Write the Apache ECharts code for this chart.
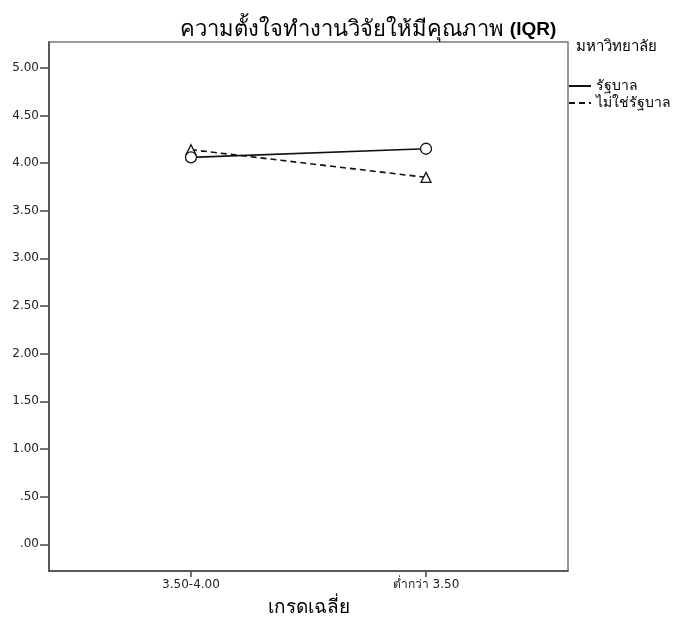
<!DOCTYPE html>
<html><head><meta charset="utf-8">
<script src="https://cdn.jsdelivr.net/npm/echarts@6/dist/echarts.min.js"></script>
<style>html,body{margin:0;padding:0;background:#fff}#c{width:679px;height:628px}</style>
</head><body><div id="c"></div>
<script>
var categories = ['3.50-4.00', 'ต่ำกว่า 3.50'];
var seriesNames = ['รัฐบาล', 'ไม่ใช่รัฐบาล'];
var govValues = [4.06, 4.15];
var nonGovValues = [4.14, 3.85];
var yTicks = [0, 0.5, 1, 1.5, 2, 2.5, 3, 3.5, 4, 4.5, 5];
var yTickLabels = ['.00', '.50', '1.00', '1.50', '2.00', '2.50', '3.00', '3.50', '4.00', '4.50', '5.00'];
var titleMain = 'ความตั้งใจทำงานวิจัยให้มีคุณภาพ';
var titleTag = '(IQR)';
var xName = 'เกรดเฉลี่ย';
var legendTitle = 'มหาวิทยาลัย';

var font = '"DejaVu Sans", "Noto Sans", sans-serif';
var afont = 'Arial, "Liberation Sans", "Noto Sans", sans-serif';
var chart = echarts.init(document.getElementById('c'));
function pts(vals){ return vals.map(function(v,i){ return [i, v]; }); }
var catIdx = categories.map(function(c,i){ return i; });
chart.setOption({
  animation: false,
  backgroundColor: '#fff',
  title: { text: '{a|' + titleMain + ' }{b|' + titleTag + '}', left: 363, textAlign: 'center', top: 14,
    textStyle: { fontWeight: 'normal', rich: {
      a: { fontFamily: afont, fontSize: 22, fontWeight: 'normal', color: '#000' },
      b: { fontFamily: afont, fontSize: 19, fontWeight: 'bold', color: '#000' } } } },
  graphic: [{ type: 'text', left: 576, top: 39,
    style: { text: legendTitle, font: '15px ' + afont, fill: '#000' } }],
  legend: { orient: 'vertical', left: 568, top: 79, padding: 0, itemWidth: 22, itemHeight: 10, itemGap: 3,
    textStyle: { fontFamily: afont, fontSize: 14, color: '#000' },
    itemStyle: { opacity: 0 },
    data: seriesNames },
  grid: { left: 49, top: 42, right: 111, bottom: 57, show: true, borderColor: '#777', borderWidth: 1.5, containLabel: false },
  xAxis: { type: 'value', min: -0.604, max: 1.604,
    name: xName, nameLocation: 'middle', nameGap: 27,
    nameTextStyle: { fontFamily: afont, fontSize: 19, color: '#000' },
    axisLine: { show: true, onZero: false, lineStyle: { color: '#444', width: 1.5 } },
    axisTick: { show: true, customValues: catIdx, length: 6, lineStyle: { color: '#444', width: 1.5 } },
    axisLabel: { customValues: catIdx, formatter: function(v){ return categories[Math.round(v)]; },
      fontFamily: font, fontSize: 12, color: '#222', margin: 8 },
    splitLine: { show: false } },
  yAxis: { type: 'value', min: -0.28, max: 5.27,
    axisLine: { show: true, onZero: false, lineStyle: { color: '#444', width: 1.5 } },
    axisTick: { show: true, customValues: yTicks, length: 9, lineStyle: { color: '#444', width: 1.5 } },
    axisLabel: { customValues: yTicks, formatter: function(v){ var i = yTicks.indexOf(Math.round(v*2)/2); return i >= 0 ? yTickLabels[i] : ''; },
      fontFamily: font, fontSize: 12, color: '#222', margin: 10 },
    splitLine: { show: false } },
  series: [
    { name: seriesNames[0], type: 'line', data: pts(govValues), symbol: 'circle', symbolSize: 11,
      lineStyle: { color: '#111', width: 1.6, type: 'solid' },
      itemStyle: { color: '#fff', borderColor: '#111', borderWidth: 1.3 }, z: 3 },
    { name: seriesNames[1], type: 'line', data: pts(nonGovValues), symbol: 'triangle', symbolSize: 10,
      lineStyle: { color: '#111', width: 1.6, type: [6, 4] },
      itemStyle: { color: '#fff', borderColor: '#111', borderWidth: 1.3 }, z: 2 }
  ]
});
</script></body></html>
